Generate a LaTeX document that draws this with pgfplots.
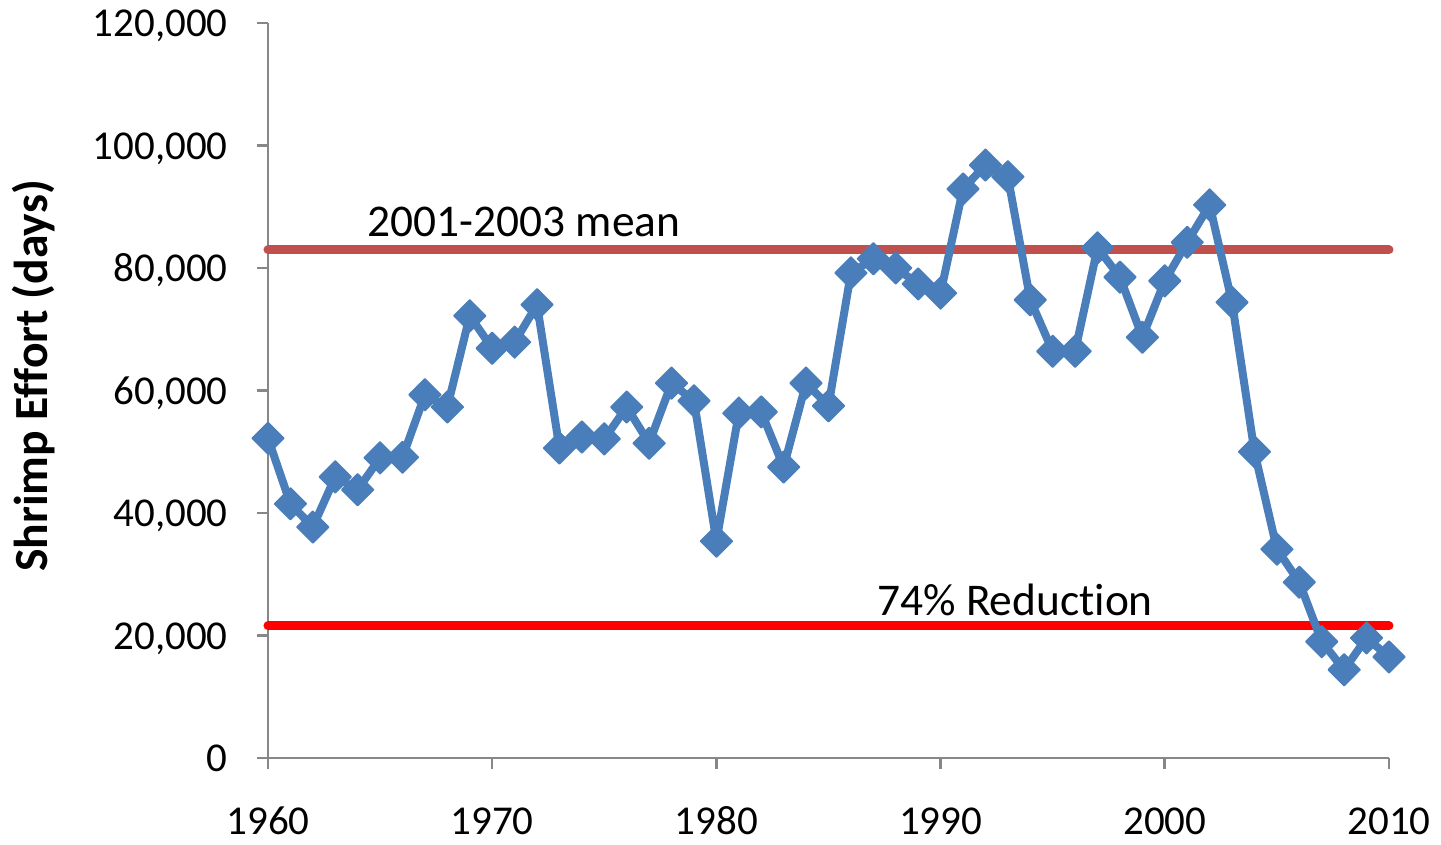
\documentclass[border=0pt]{standalone}
\usepackage{pgfplots}
\pgfplotsset{compat=1.18}
\usepackage{fontspec}
\setmainfont{Carlito}[RawFeature={-liga;-calt;-clig}]
\definecolor{serblue}{HTML}{4A7EBB}
\definecolor{meanred}{HTML}{C0504D}
\definecolor{redline}{HTML}{FF0000}
\definecolor{axisgray}{HTML}{878787}
\pgfplotstableread{
year effort
1960 52200
1961 41500
1962 37700
1963 45900
1964 43800
1965 49000
1966 49100
1967 59300
1968 57300
1969 72200
1970 66900
1971 67900
1972 74000
1973 50600
1974 52400
1975 52100
1976 57300
1977 51400
1978 61200
1979 58300
1980 35400
1981 56300
1982 56500
1983 47500
1984 61200
1985 57500
1986 79200
1987 81500
1988 80000
1989 77400
1990 75900
1991 92900
1992 96800
1993 94900
1994 74800
1995 66400
1996 66400
1997 83300
1998 78500
1999 68700
2000 77900
2001 84200
2002 90300
2003 74400
2004 50000
2005 34100
2006 28700
2007 19000
2008 14400
2009 19600
2010 16500
}\efforttable
\begin{document}
\begin{tikzpicture}
\begin{axis}[
  name=ax,
  scale only axis,
  width=560.5pt, height=367.5pt,
  xmin=1960, xmax=2010, ymin=0, ymax=120000,
  axis lines=left,
  axis line style={draw=axisgray, line width=1.3pt, -},
  xtick={1960,1970,...,2010},
  ytick={0,20000,...,120000},
  tick align=outside,
  major tick length=5.5pt,
  tick style={draw=axisgray, line width=1.3pt},
  scaled y ticks=false,
  clip=false,
  xticklabel style={font=\fontsize{20.5}{24}\selectfont, anchor=base, inner sep=0pt, yshift=-33pt,
    /pgf/number format/.cd, 1000 sep={}, assume math mode=true},
  yticklabel style={font=\fontsize{20.5}{24}\selectfont, anchor=base east, inner sep=0pt, xshift=-14.5pt, yshift=-7pt,
    /pgf/number format/.cd, fixed, 1000 sep={,}, assume math mode=true},
  ylabel={Shrimp Effort (days)},
  ylabel style={at={(axis description cs:-0.1963,0.5197)}, anchor=base, rotate=0,
    font=\fontsize{23.8}{28}\selectfont\bfseries, inner sep=0pt},
]
\addplot[meanred, line width=4.5pt, line cap=round] coordinates {(1960,82950) (2010,82950)};
\addplot[redline, line width=4.5pt, line cap=round] coordinates {(1960,21570) (2010,21570)};
\addplot[serblue, line width=4pt, line join=round, mark=square*,
  mark size=5.6pt, mark options={rotate=45, fill=serblue, draw=serblue, line width=0.8pt, solid}]
  table[x=year, y=effort] {\efforttable};
\node[anchor=base west, inner sep=0pt, font=\fontsize{22.7}{27}\selectfont] at (axis cs:1964.42,85200) {2001-2003 mean};
\node[anchor=base west, inner sep=0pt, font=\fontsize{22.7}{27}\selectfont] at (axis cs:1987.16,23300) {74\% Reduction};
\end{axis}
\pgfresetboundingbox
\path (ax.south west) ++(-134pt,-43.5pt) rectangle ++(720.5pt,422.5pt);
\end{tikzpicture}
\end{document}
